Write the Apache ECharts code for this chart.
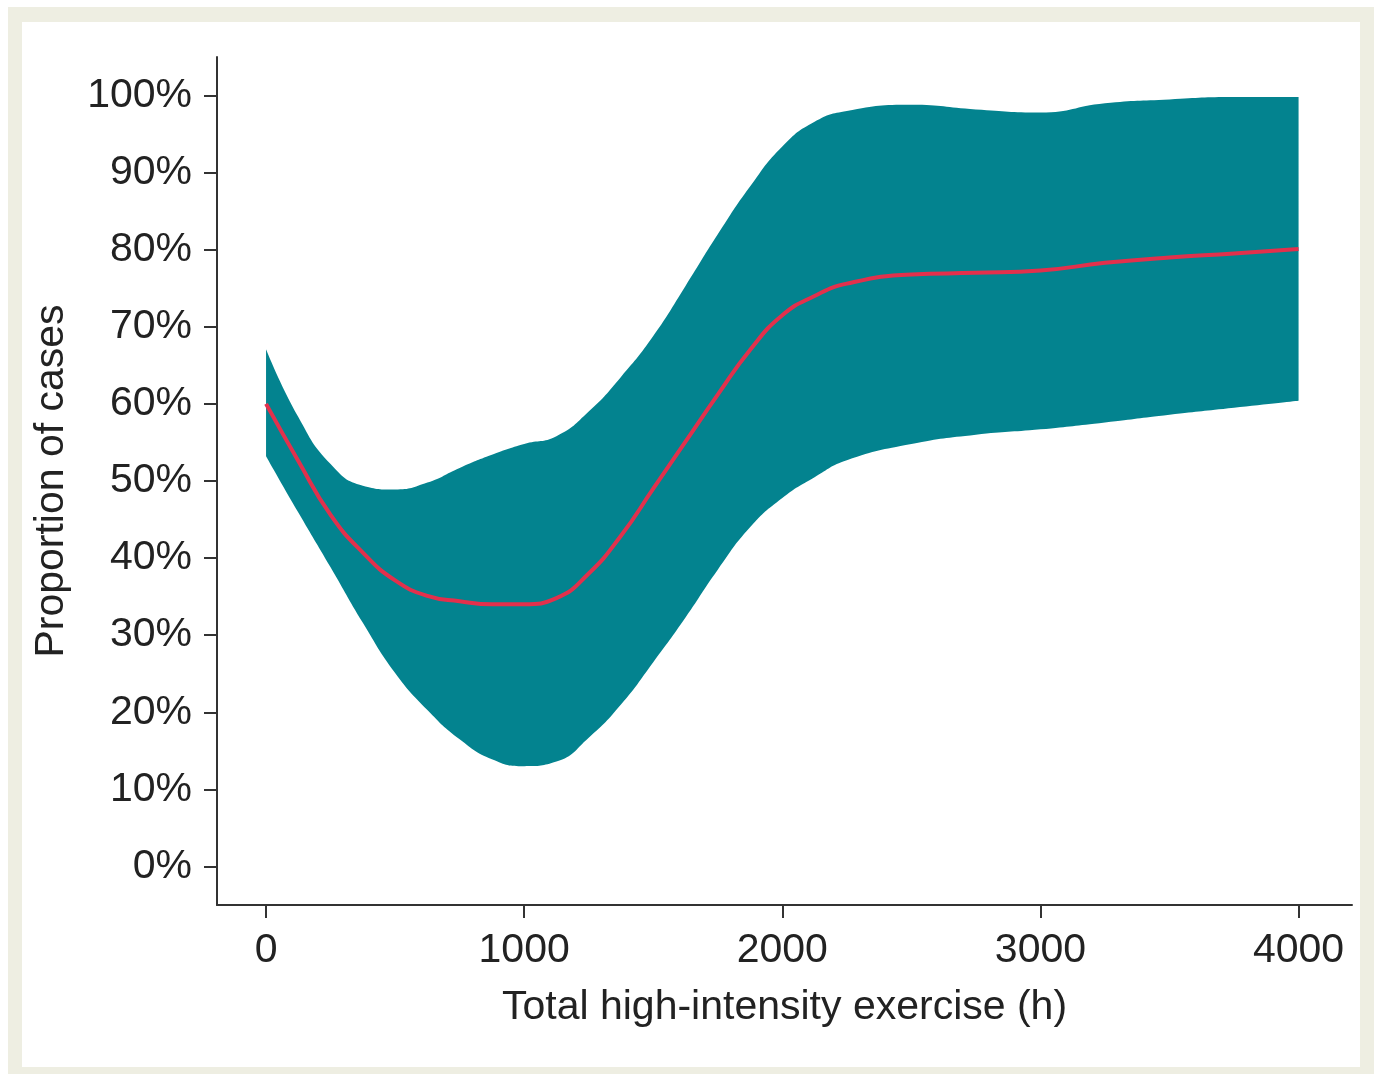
<!DOCTYPE html>
<html>
<head>
<meta charset="utf-8">
<script src="https://cdn.jsdelivr.net/npm/echarts@6/dist/echarts.min.js"></script>
<style>
  html, body { margin: 0; padding: 0; background: #ffffff; }
  #frame { position: absolute; left: 8px; top: 7px; width: 1366px; height: 1067px; background: #eeeee2; }
  #inner { position: absolute; left: 22px; top: 22px; width: 1338px; height: 1045px; background: #ffffff; }
  #chart { position: absolute; left: 0; top: 0; width: 1374px; height: 1074px; }
</style>
</head>
<body>
<div id="frame"></div>
<div id="inner"></div>
<div id="chart"></div>
<script>
// Total high-intensity exercise (h)
const hours = [0,125,250,375,500,625,750,875,1000,1125,1250,1375,1500,1625,1750,1875,2000,2125,2250,2500,2750,3000,3250,3500,3750,4000];
// Upper confidence bound (%)
const upperCI = [67.1,58.3,52.2,49.4,48.9,49.8,51.7,53.4,54.8,55.8,59.0,63.5,68.8,75.3,82.0,88.2,93.4,96.6,98.0,98.8,98.2,97.8,99.0,99.5,99.8,99.8];
// Lower confidence bound (%)
const lowerCI = [53.2,45.9,38.8,31.6,25.1,20.3,16.5,13.9,13.0,13.6,16.7,21.0,26.5,32.3,38.5,44.0,47.8,50.5,52.7,54.8,56.0,56.7,57.6,58.6,59.5,60.4];
// Estimated proportion of cases (%)
const estimate = [60.0,52.6,45.6,40.7,37.1,35.1,34.4,34.0,34.0,34.8,38.0,42.9,49.0,55.1,61.2,67.0,71.5,74.0,75.6,76.8,77.0,77.3,78.3,79.0,79.5,80.1];
// Tick labels
const xTicks = [0,1000,2000,3000,4000];
const yTicks = [0,10,20,30,40,50,60,70,80,90,100];

// rows are [value, hours] so that the stacked dimension is the value (y) one
const lowerData = hours.map((h, i) => [lowerCI[i], h]);
const widthData = hours.map((h, i) => [+(upperCI[i] - lowerCI[i]).toFixed(2), h]);
const lineData = hours.map((h, i) => [h, estimate[i]]);

const FONT = '"Liberation Sans", Arial, Helvetica, sans-serif';
const TXT = '#222222';
const AX = '#333333';
const TEAL = '#03838f';
const SMOOTH = 0.5;

const chart = echarts.init(document.getElementById('chart'), null, { renderer: 'canvas' });
chart.setOption({
  backgroundColor: 'transparent',
  animation: false,
  grid: { left: 217, right: 22, top: 57, bottom: 169 },
  xAxis: {
    type: 'value',
    min: -190,
    max: 4207,
    z: 10,
    name: 'Total high-intensity exercise (h)',
    nameLocation: 'middle',
    nameGap: 82,
    nameTextStyle: { fontFamily: FONT, fontSize: 41, color: TXT },
    axisLine: { show: true, onZero: false, lineStyle: { color: AX, width: 2 } },
    axisTick: { show: true, length: 13, lineStyle: { color: AX, width: 2 }, customValues: xTicks },
    axisLabel: { margin: 25, fontFamily: FONT, fontSize: 41, color: TXT, customValues: xTicks, formatter: v => String(v) },
    splitLine: { show: false }
  },
  yAxis: {
    type: 'value',
    min: -5,
    max: 105,
    z: 10,
    name: 'Proportion of cases',
    nameLocation: 'middle',
    nameGap: 145,
    nameTextStyle: { fontFamily: FONT, fontSize: 41, color: TXT },
    axisLine: { show: true, onZero: false, lineStyle: { color: AX, width: 2 } },
    axisTick: { show: true, length: 13, lineStyle: { color: AX, width: 2 }, customValues: yTicks },
    axisLabel: { margin: 25, fontFamily: FONT, fontSize: 41, color: TXT, customValues: yTicks, formatter: '{value}%' },
    splitLine: { show: false }
  },
  series: [
    {
      type: 'line', name: 'lower', data: lowerData, encode: { x: 1, y: 0 },
      stack: 'band', smooth: SMOOTH,
      symbol: 'none', lineStyle: { width: 0, opacity: 0 }, silent: true, z: 2
    },
    {
      type: 'line', name: 'band', data: widthData, encode: { x: 1, y: 0 },
      stack: 'band', smooth: SMOOTH,
      symbol: 'none', lineStyle: { width: 0, opacity: 0 },
      areaStyle: { color: TEAL, opacity: 1 }, silent: true, z: 2
    },
    {
      type: 'line', name: 'estimate', data: lineData, smooth: SMOOTH,
      symbol: 'none', lineStyle: { color: '#e2304c', width: 4 }, z: 4
    }
  ]
});
</script>
</body>
</html>
